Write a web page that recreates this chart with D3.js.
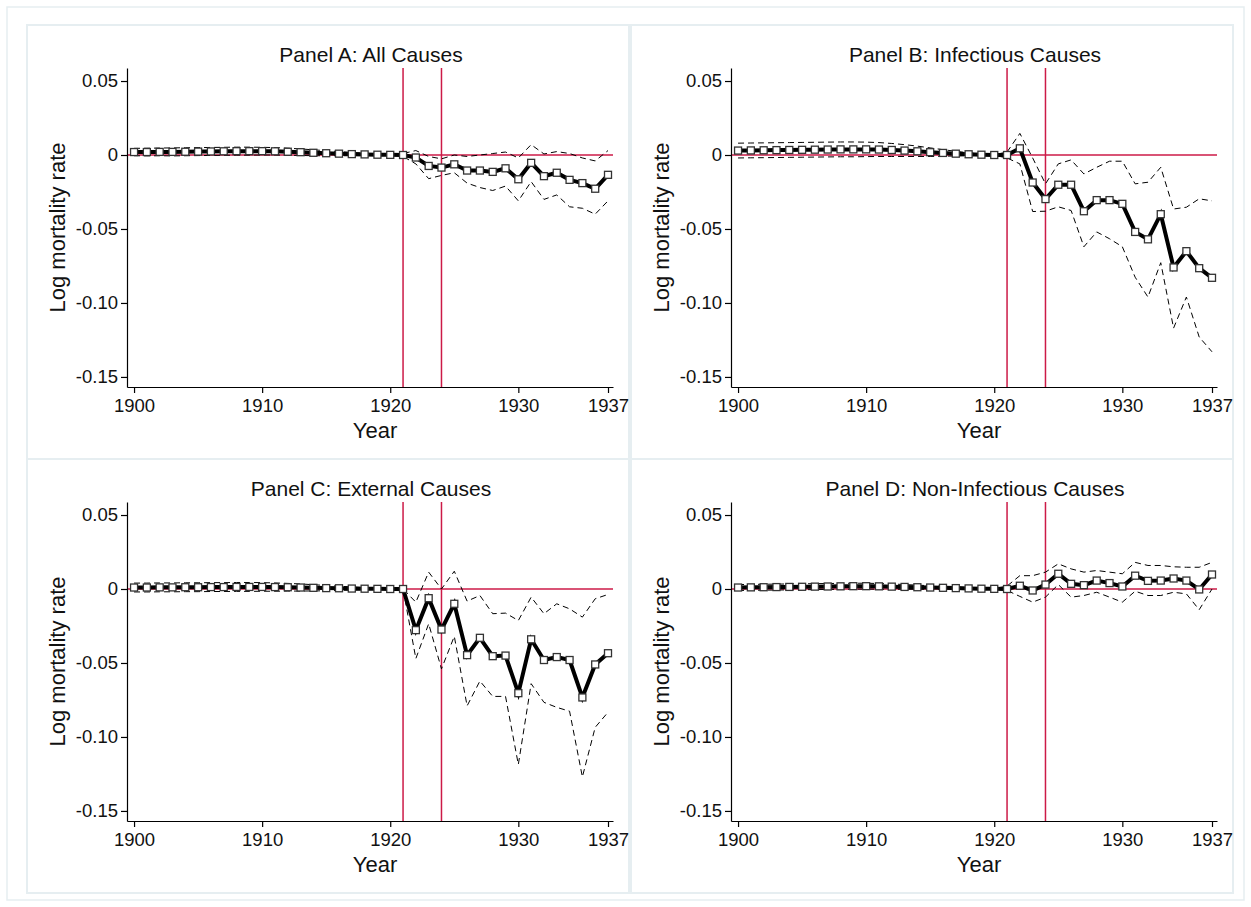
<!DOCTYPE html>
<html>
<head>
<meta charset="utf-8">
<script src="https://cdn.jsdelivr.net/npm/d3@7"></script>
<style>
  body { margin: 0; background: #fff; }
  svg { display: block; font-family: "Liberation Sans", Arial, Helvetica, sans-serif; }
</style>
</head>
<body>
<svg id="chart" width="1251" height="907"></svg>
<script>
// years 1900..1937
const years = d3.range(1900, 1938)
const xTicks = [1900, 1910, 1920, 1930, 1937]
const yTicks = [0.05, 0, -0.05, -0.10, -0.15]
const yTickLabels = ["0.05", "0", "-0.05", "-0.10", "-0.15"]
const reformYears = [1921, 1924]
const titles = ["Panel A: All Causes", "Panel B: Infectious Causes", "Panel C: External Causes", "Panel D: Non-Infectious Causes"]

// Panel A
const aEst = [0.0020,0.0020,0.0021,0.0021,0.0022,0.0023,0.0024,0.0025,0.0026,0.0026,0.0026,0.0025,0.0022,0.0019,0.0015,0.0012,0.0009,0.0006,0.0004,0.0002,0.0001,
  0.0000,-0.0017,-0.0074,-0.0085,-0.0063,-0.0105,-0.0105,-0.0114,-0.0090,-0.0164,-0.0053,-0.0143,-0.0120,-0.0168,-0.0190,-0.0228,-0.0134]
const aHi = [0.0045,0.0046,0.0047,0.0048,0.0049,0.0050,0.0051,0.0052,0.0053,0.0053,0.0052,0.0050,0.0046,0.0041,0.0035,0.0029,0.0023,0.0017,0.0012,0.0007,0.0003,
  0.0010,0.0030,-0.0010,-0.0026,0.0000,-0.0010,0.0000,0.0010,0.0020,-0.0020,0.0070,0.0007,0.0023,0.0010,-0.0020,-0.0040,0.0030]
const aLo = [-0.0005,-0.0006,-0.0005,-0.0006,-0.0005,-0.0004,-0.0003,-0.0002,-0.0001,-0.0001,0.0000,0.0000,-0.0002,-0.0003,-0.0005,-0.0005,-0.0005,-0.0005,-0.0004,-0.0003,-0.0001,
  -0.0010,-0.0060,-0.0160,-0.0138,-0.0120,-0.0190,-0.0220,-0.0240,-0.0210,-0.0310,-0.0180,-0.0300,-0.0270,-0.0350,-0.0360,-0.0400,-0.0310]

// Panel B
const bEst = [0.0030,0.0031,0.0032,0.0033,0.0034,0.0035,0.0036,0.0037,0.0038,0.0038,0.0038,0.0037,0.0034,0.0030,0.0025,0.0019,0.0014,0.0009,0.0005,0.0002,0.0000,
  0.0000,0.0045,-0.0186,-0.0298,-0.0201,-0.0201,-0.0380,-0.0305,-0.0305,-0.0330,-0.0520,-0.0570,-0.0400,-0.0760,-0.0650,-0.0765,-0.0830]
const bHi = [0.0080,0.0081,0.0082,0.0083,0.0084,0.0085,0.0086,0.0087,0.0088,0.0088,0.0087,0.0084,0.0078,0.0070,0.0060,0.0048,0.0036,0.0025,0.0015,0.0007,0.0002,
  0.0020,0.0146,-0.0020,-0.0195,-0.0060,-0.0033,-0.0128,-0.0083,-0.0042,-0.0042,-0.0195,-0.0184,-0.0083,-0.0365,-0.0353,-0.0296,-0.0310]
const bLo = [-0.0020,-0.0019,-0.0018,-0.0017,-0.0016,-0.0015,-0.0014,-0.0013,-0.0012,-0.0012,-0.0011,-0.0010,-0.0010,-0.0010,-0.0010,-0.0010,-0.0008,-0.0007,-0.0005,-0.0003,-0.0002,
  -0.0020,-0.0060,-0.0382,-0.0380,-0.0350,-0.0375,-0.0620,-0.0520,-0.0566,-0.0620,-0.0826,-0.0960,-0.0728,-0.1170,-0.0960,-0.1230,-0.1330]

// Panel C
const cEst = [0.0010,0.0010,0.0011,0.0011,0.0012,0.0012,0.0013,0.0013,0.0014,0.0014,0.0014,0.0013,0.0012,0.0010,0.0008,0.0006,0.0005,0.0003,0.0002,0.0001,0.0000,
  0.0000,-0.0278,-0.0062,-0.0274,-0.0100,-0.0447,-0.0330,-0.0454,-0.0450,-0.0704,-0.0340,-0.0480,-0.0460,-0.0480,-0.0733,-0.0510,-0.0434]
const cHi = [0.0040,0.0040,0.0041,0.0041,0.0042,0.0042,0.0043,0.0043,0.0044,0.0044,0.0043,0.0041,0.0038,0.0034,0.0029,0.0024,0.0019,0.0014,0.0009,0.0005,0.0002,
  0.0000,-0.0089,0.0114,0.0000,0.0120,-0.0082,-0.0044,-0.0167,-0.0163,-0.0213,-0.0055,-0.0167,-0.0100,-0.0134,-0.0190,-0.0066,-0.0037]
const cLo = [-0.0020,-0.0020,-0.0019,-0.0019,-0.0018,-0.0018,-0.0017,-0.0017,-0.0016,-0.0016,-0.0015,-0.0015,-0.0014,-0.0014,-0.0013,-0.0012,-0.0009,-0.0008,-0.0005,-0.0003,-0.0002,
  0.0000,-0.0470,-0.0235,-0.0540,-0.0320,-0.0790,-0.0622,-0.0726,-0.0726,-0.1186,-0.0640,-0.0766,-0.0800,-0.0826,-0.1270,-0.0935,-0.0833]

// Panel D
const dEst = [0.0010,0.0011,0.0012,0.0013,0.0014,0.0015,0.0016,0.0017,0.0018,0.0019,0.0019,0.0018,0.0016,0.0014,0.0012,0.0010,0.0008,0.0006,0.0004,0.0002,0.0001,
  0.0000,0.0022,-0.0010,0.0030,0.0103,0.0035,0.0026,0.0057,0.0040,0.0017,0.0090,0.0055,0.0057,0.0071,0.0057,-0.0003,0.0098]
const dHi = [0.0030,0.0031,0.0032,0.0033,0.0034,0.0035,0.0036,0.0037,0.0038,0.0039,0.0039,0.0037,0.0034,0.0030,0.0026,0.0022,0.0017,0.0013,0.0009,0.0005,0.0003,
  0.0020,0.0090,0.0090,0.0114,0.0170,0.0136,0.0114,0.0125,0.0114,0.0103,0.0180,0.0159,0.0159,0.0150,0.0147,0.0147,0.0180]
const dLo = [-0.0010,-0.0009,-0.0008,-0.0007,-0.0006,-0.0005,-0.0004,-0.0003,-0.0002,-0.0001,-0.0001,-0.0001,-0.0002,-0.0002,-0.0002,-0.0002,-0.0001,-0.0001,-0.0001,0.0000,0.0000,
  -0.0010,-0.0050,-0.0089,-0.0055,0.0030,-0.0055,-0.0044,-0.0022,-0.0055,-0.0089,-0.0015,-0.0044,-0.0044,-0.0022,-0.0033,-0.0140,0.0000]

const panels = [
  { title: titles[0], est: aEst, hi: aHi, lo: aLo, col: 0, row: 0 },
  { title: titles[1], est: bEst, hi: bHi, lo: bLo, col: 1, row: 0 },
  { title: titles[2], est: cEst, hi: cHi, lo: cLo, col: 0, row: 1 },
  { title: titles[3], est: dEst, hi: dHi, lo: dLo, col: 1, row: 1 }
]

const red = "#cc1a47"
const frameColor = "#e6eef1"
const svg = d3.select("#chart")

// outer frame
svg.append("rect")
  .attr("x", 7).attr("y", 7)
  .attr("width", 1237).attr("height", 893)
  .attr("fill", "none")
  .attr("stroke", frameColor)
  .attr("stroke-width", 1.5)

// scales shared by every panel (panel A coordinates)
const x = d3.scaleLinear().domain([1899.45, 1937.39]).range([127, 613])
const y = d3.scaleLinear().domain([-0.1568, 0.0588]).range([387, 68])

panels.forEach(p => {
  const g = svg.append("g")
    .attr("transform", `translate(${p.col * 604}, ${p.row * 434})`)

  // panel frame
  g.append("rect")
    .attr("x", 27).attr("y", 25)
    .attr("width", 602).attr("height", 434)
    .attr("fill", "none")
    .attr("stroke", frameColor)
    .attr("stroke-width", 2)

  // title
  g.append("text")
    .attr("x", 371).attr("y", 62)
    .attr("text-anchor", "middle")
    .attr("font-size", 21)
    .attr("fill", "#111")
    .text(p.title)

  // reference lines
  g.append("line")
    .attr("x1", x.range()[0]).attr("x2", x.range()[1])
    .attr("y1", y(0)).attr("y2", y(0))
    .attr("stroke", red).attr("stroke-width", 1.5)
  g.selectAll("line.vref")
    .data(reformYears)
    .enter()
    .append("line")
    .attr("class", "vref")
    .attr("x1", d => x(d)).attr("x2", d => x(d))
    .attr("y1", y.range()[1]).attr("y2", y.range()[0])
    .attr("stroke", red).attr("stroke-width", 1.5)

  // axes
  const yAxis = g.append("g")
    .attr("transform", `translate(${x.range()[0]},0)`)
    .call(d3.axisLeft(y).tickValues(yTicks).tickSize(6).tickSizeOuter(0).tickPadding(3)
      .tickFormat((d, i) => yTickLabels[i]))
  const xAxis = g.append("g")
    .attr("transform", `translate(0,${y.range()[0]})`)
    .call(d3.axisBottom(x).tickValues(xTicks).tickSize(6).tickSizeOuter(0).tickPadding(6)
      .tickFormat(d => d))
  ;[yAxis, xAxis].forEach(ax => {
    ax.selectAll("path, line").attr("stroke", "#000").attr("stroke-width", 1.2)
    ax.selectAll("text").attr("font-size", 18.5).attr("fill", "#111")
      .attr("font-family", '"Liberation Sans", Arial, sans-serif')
  })

  // axis titles
  g.append("text")
    .attr("transform", `translate(65, ${(y.range()[0] + y.range()[1]) / 2}) rotate(-90)`)
    .attr("text-anchor", "middle")
    .attr("font-size", 22)
    .attr("fill", "#111")
    .text("Log mortality rate")
  g.append("text")
    .attr("x", 375).attr("y", 438)
    .attr("text-anchor", "middle")
    .attr("font-size", 22)
    .attr("fill", "#111")
    .text("Year")

  // confidence bands (dashed)
  const line = d3.line().x((d, i) => x(years[i])).y(d => y(d))
  ;[p.hi, p.lo].forEach(series => {
    g.append("path")
      .datum(series)
      .attr("d", line)
      .attr("fill", "none")
      .attr("stroke", "#000")
      .attr("stroke-width", 1)
      .attr("stroke-dasharray", "6,4")
  })

  // estimate line
  g.append("path")
    .datum(p.est)
    .attr("d", line)
    .attr("fill", "none")
    .attr("stroke", "#000")
    .attr("stroke-width", 4)
    .attr("stroke-linejoin", "miter")

  // hollow square markers
  const s = 7
  g.selectAll("rect.mk")
    .data(p.est)
    .enter()
    .append("rect")
    .attr("class", "mk")
    .attr("x", (d, i) => x(years[i]) - s / 2)
    .attr("y", d => y(d) - s / 2)
    .attr("width", s).attr("height", s)
    .attr("fill", "#fff")
    .attr("stroke", "#333")
    .attr("stroke-width", 1.3)
})
</script>
</body>
</html>
